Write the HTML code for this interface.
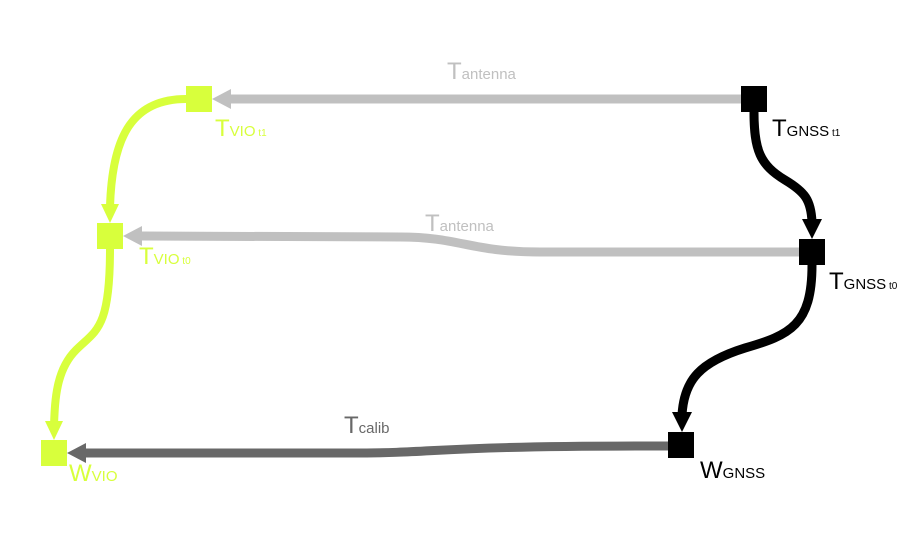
<!DOCTYPE html>
<html><head><style>body{margin:0;background:#fff}svg{display:block}text{font-family:"Liberation Sans",sans-serif}</style></head><body>
<svg width="913" height="534" viewBox="0 0 913 534">
<g fill="none" stroke-linecap="butt">
<path d="M741 99 L230 99" stroke="#c0c0c0" stroke-width="9"/>
<path d="M799 252 L540 252 C470 252 460 237 400 237 L142 236" stroke="#c0c0c0" stroke-width="9"/>
<path d="M668 446 C420 446 450 453 350 453 L86 453" stroke="#686868" stroke-width="9"/>
<path d="M186 99 C130 99 112 140 110 207" stroke="#d8ff3c" stroke-width="8"/>
<path d="M110 249 C110 330 96 330 76 350 C56 370 55 400 54 425" stroke="#d8ff3c" stroke-width="8"/>
<path d="M754 112 C754 150 760 165 785 180 C805 192 811 200 812 222" stroke="#000" stroke-width="9"/>
<path d="M812 265 C812 325 790 335 745 348 C700 362 684 380 682 415" stroke="#000" stroke-width="9"/>
</g>
<polygon points="212,99 231,89 231,109" fill="#c0c0c0"/>
<polygon points="123,236 142,226 142,246" fill="#c0c0c0"/>
<polygon points="67,453 86,443 86,463" fill="#686868"/>
<polygon points="110,223 101,204 119,204" fill="#d8ff3c"/>
<polygon points="54,440 45,421 63,421" fill="#d8ff3c"/>
<polygon points="812,239 802,219 822,219" fill="#000"/>
<polygon points="682,432 672,412 692,412" fill="#000"/>
<rect x="186" y="86" width="26" height="26" fill="#d8ff3c"/>
<rect x="97" y="223" width="26" height="26" fill="#d8ff3c"/>
<rect x="41" y="440" width="26" height="26" fill="#d8ff3c"/>
<rect x="741" y="86" width="26" height="26" fill="#000"/>
<rect x="799" y="239" width="26" height="26" fill="#000"/>
<rect x="668" y="432" width="26" height="26" fill="#000"/>
<text x="447" y="79" fill="#c0c0c0" font-size="24">T<tspan font-size="15">antenna</tspan></text>
<text x="425" y="231" fill="#c0c0c0" font-size="24">T<tspan font-size="15">antenna</tspan></text>
<text x="344" y="433" fill="#686868" font-size="24">T<tspan font-size="15">calib</tspan></text>
<text x="215" y="136" fill="#d8ff3c" font-size="24">T<tspan font-size="15">VIO</tspan><tspan font-size="10"> t1</tspan></text>
<text x="139" y="264" fill="#d8ff3c" font-size="24">T<tspan font-size="15">VIO</tspan><tspan font-size="10"> t0</tspan></text>
<text x="69" y="481" fill="#d8ff3c" font-size="24">W<tspan font-size="15">VIO</tspan></text>
<text x="772" y="136" fill="#000" font-size="24">T<tspan font-size="15">GNSS</tspan><tspan font-size="10"> t1</tspan></text>
<text x="829" y="289" fill="#000" font-size="24">T<tspan font-size="15">GNSS</tspan><tspan font-size="10"> t0</tspan></text>
<text x="700" y="478" fill="#000" font-size="24">W<tspan font-size="15">GNSS</tspan></text>
</svg>
</body></html>
